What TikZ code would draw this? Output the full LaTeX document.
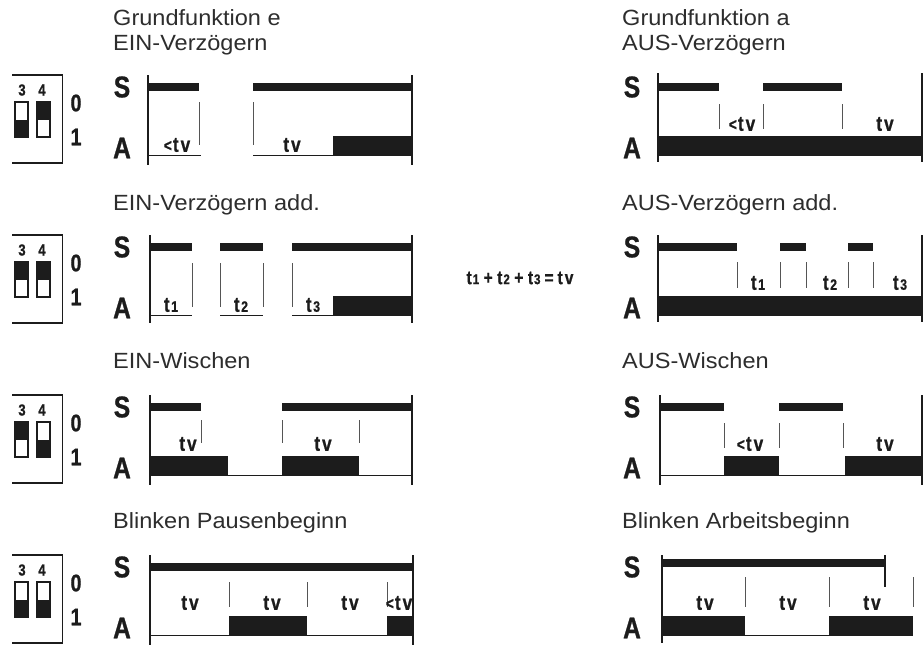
\documentclass[tikz,border=0pt]{standalone}
\usepackage{fontspec}
\setmainfont{Liberation Sans}
\newfontfamily\titlefont[FakeStretch=1.07]{Liberation Sans}
\newfontfamily\condfont[FakeStretch=0.82,BoldFeatures={FakeBold=0.8}]{Liberation Sans}
\definecolor{inkc}{RGB}{28,28,28}
\definecolor{txtc}{RGB}{45,45,45}
\tikzset{
  axisline/.style={draw=inkc,line width=1.1pt},
  tickline/.style={draw=inkc!75,line width=0.9pt},
  aline/.style={draw=inkc,line width=1.3pt},
  swline/.style={draw=inkc,line width=1.4pt},
  ttl/.style={inner sep=0,anchor=base west,text=txtc,font=\titlefont\fontsize{22}{22}\selectfont},
  sa/.style={inner sep=0,text=inkc,font=\condfont\bfseries\fontsize{30}{30}\selectfont},
  lbl/.style={inner sep=0,text=inkc,font=\condfont\bfseries\fontsize{21}{21}\selectfont},
  tlbl/.style={inner sep=0,text=inkc,font=\condfont\bfseries\fontsize{21}{21}\selectfont},
  snum/.style={inner sep=0,text=inkc,font=\condfont\bfseries\fontsize{16}{16}\selectfont},
  bnum/.style={inner sep=0,text=inkc,font=\condfont\bfseries\fontsize{24}{24}\selectfont},
}
\newcommand\sbar[3]{\fill[inkc] (#1,#3-3.8) rectangle (#2,#3+3.8);}
\newcommand\abar[2]{\fill[inkc] (#1,135.5) rectangle (#2,155.8);}
\newcommand\tickat[3]{\draw[tickline] (#1,#2) -- (#1,#3);}
\newcommand\tvtext{t\kern2pt v}
\newcommand\ltvtext{{\fontsize{17}{17}\selectfont\raisebox{0.5pt}{<}}\kern1pt t\kern2pt v}
\newcommand\sub[1]{{\fontsize{15}{15}\selectfont #1}}
% #1 y offset, #2 fill top of switch 3, #3 fill top of switch 4, #4 prefix
\newcommand\dipsw[4]{%
 \begin{scope}[shift={(0,#1)}]
  \draw[swline] (12,75) -- (62.5,75) -- (62.5,163) -- (12,163);
  \node[snum] (#4n3) at (22,90) {3};
  \node[snum] (#4n4) at (42,90) {4};
  \fill[inkc] (15,#2) rectangle (28,#2+17.5);
  \fill[inkc] (37,#3) rectangle (50,#3+17.5);
  \draw[swline] (15,102) rectangle (28,137);
  \draw[swline] (37,102) rectangle (50,137);
  \node[bnum] (#4z) at (76,103) {0};
  \node[bnum] (#4o) at (76,137) {1};
 \end{scope}}
\newcommand\salabels[3]{%
  \node[sa] (#3S) at (#1,#2+87) {S};
  \node[sa] (#3A) at (#1,#2+148) {A};}
\begin{document}
\begin{tikzpicture}[x=1pt,y=-1pt]
\useasboundingbox (0,0) rectangle (923,649);
\fill[white] (0,0) rectangle (923,649);

% ---------------- Panel 1 ----------------
\node[ttl] (t1l1) at (113,25) {Grundfunktion e};
\node[ttl] (t1l2) at (113,50) {EIN-Verzögern};
\node[ttl] (t1r1) at (622,25) {Grundfunktion a};
\node[ttl] (t1r2) at (622,50) {AUS-Verzögern};
\dipsw{0}{119.5}{102}{p1}
\salabels{122}{0}{p1l}
\salabels{632}{0}{p1r}
\begin{scope}
  \draw[axisline] (148,75) -- (148,165);
  \draw[axisline] (412,75) -- (412,165);
  \sbar{148}{199}{87}
  \sbar{253}{412}{87}
  \tickat{199}{102}{145}
  \tickat{253}{102}{145}
  \draw[aline] (148,155.5) -- (201,155.5);
  \draw[aline] (253,155.5) -- (333,155.5);
  \abar{333}{412}
  \node[lbl] (p1a) at (177,145) {\ltvtext};
  \node[lbl] (p1b) at (292,145) {\tvtext};
\end{scope}
\begin{scope}
  \draw[axisline] (658,73) -- (658,162);
  \draw[axisline] (922,73) -- (922,162);
  \sbar{658}{719}{87}
  \sbar{763}{842}{87}
  \tickat{719}{104}{129}
  \tickat{763}{104}{129}
  \tickat{842}{104}{129}
  \abar{658}{923}
  \node[lbl] (p1c) at (742,124) {\ltvtext};
  \node[lbl] (p1d) at (885,124) {\tvtext};
\end{scope}

% ---------------- Panel 2 ----------------
\node[ttl] (t2l) at (113,210) {EIN-Verzögern add.};
\node[ttl] (t2r) at (622,210) {AUS-Verzögern add.};
\dipsw{160}{102}{102}{p2}
\salabels{122}{160}{p2l}
\salabels{632}{160}{p2r}
\begin{scope}[shift={(0,160)}]
  \draw[axisline] (150,75) -- (150,163);
  \draw[axisline] (412,75) -- (412,163);
  \sbar{150}{192}{87}
  \sbar{220}{263}{87}
  \sbar{292}{412}{87}
  \tickat{192}{103}{147}
  \tickat{220}{103}{147}
  \tickat{263}{103}{147}
  \tickat{292}{103}{147}
  \draw[aline] (150,155.5) -- (192,155.5);
  \draw[aline] (220,155.5) -- (263,155.5);
  \draw[aline] (292,155.5) -- (333,155.5);
  \abar{333}{412}
  \node[tlbl] (p2a) at (171,145) {t\kern1.5pt\sub{1}};
  \node[tlbl] (p2b) at (241,145) {t\kern1.5pt\sub{2}};
  \node[tlbl] (p2c) at (313,145) {t\kern1.5pt\sub{3}};
  \node[inner sep=0,text=inkc,font=\condfont\bfseries\fontsize{19}{19}\selectfont] (form) at (520,118)
    {t\kern1pt{\fontsize{14}{14}\selectfont 1}\kern4.5pt+\kern4.5pt t\kern1pt{\fontsize{14}{14}\selectfont 2}\kern4.5pt+\kern4.5pt t\kern1pt{\fontsize{14}{14}\selectfont 3}\kern4pt=\kern4pt t\kern2pt v};
\end{scope}
\begin{scope}[shift={(0,160)}]
  \draw[axisline] (658,75) -- (658,162);
  \draw[axisline] (922,75) -- (922,162);
  \sbar{658}{737}{87}
  \sbar{780}{806}{87}
  \sbar{848}{873}{87}
  \tickat{737}{102}{128}
  \tickat{780}{102}{128}
  \tickat{806}{102}{128}
  \tickat{848}{102}{128}
  \tickat{873}{102}{128}
  \abar{658}{923}
  \node[tlbl] (p2d) at (758,123) {t\kern1.5pt\sub{1}};
  \node[tlbl] (p2e) at (830,123) {t\kern1.5pt\sub{2}};
  \node[tlbl] (p2f) at (900,123) {t\kern1.5pt\sub{3}};
\end{scope}

% ---------------- Panel 3 ----------------
\node[ttl] (t3l) at (113,368) {EIN-Wischen};
\node[ttl] (t3r) at (622,368) {AUS-Wischen};
\dipsw{320}{102}{119.5}{p3}
\salabels{122}{320}{p3l}
\salabels{632}{320}{p3r}
\begin{scope}[shift={(0,320)}]
  \draw[axisline] (150,75) -- (150,165);
  \draw[axisline] (412,75) -- (412,165);
  \sbar{150}{201}{87}
  \sbar{282}{412}{87}
  \tickat{201}{100}{123}
  \tickat{282}{100}{123}
  \tickat{359}{100}{123}
  \abar{150}{228}
  \draw[aline] (228,155.5) -- (282,155.5);
  \abar{282}{359}
  \draw[aline] (359,155.5) -- (412,155.5);
  \node[lbl] (p3a) at (188,124) {\tvtext};
  \node[lbl] (p3b) at (323,124) {\tvtext};
\end{scope}
\begin{scope}[shift={(0,320)}]
  \draw[axisline] (660,75) -- (660,165);
  \draw[axisline] (922,75) -- (922,165);
  \sbar{660}{724}{87}
  \sbar{779}{843}{87}
  \tickat{724}{103}{128}
  \tickat{779}{103}{128}
  \tickat{843}{103}{128}
  \draw[aline] (660,155.5) -- (724,155.5);
  \abar{724}{779}
  \draw[aline] (779,155.5) -- (845,155.5);
  \abar{845}{923}
  \node[lbl] (p3c) at (750,124) {\ltvtext};
  \node[lbl] (p3d) at (885,124) {\tvtext};
\end{scope}

% ---------------- Panel 4 ----------------
\node[ttl] (t4l) at (113,528) {Blinken Pausenbeginn};
\node[ttl] (t4r) at (622,528) {Blinken Arbeitsbeginn};
\dipsw{480}{119.5}{119.5}{p4}
\salabels{122}{480}{p4l}
\salabels{632}{480}{p4r}
\begin{scope}[shift={(0,480)}]
  \draw[axisline] (150,75) -- (150,165);
  \draw[axisline] (413,75) -- (413,165);
  \sbar{150}{413}{87}
  \tickat{229}{102}{127}
  \tickat{307}{102}{127}
  \tickat{387}{102}{127}
  \draw[aline] (150,155.5) -- (229,155.5);
  \abar{229}{307}
  \draw[aline] (307,155.5) -- (387,155.5);
  \abar{387}{413}
  \node[lbl] (p4a) at (190,123) {\tvtext};
  \node[lbl] (p4b) at (272,123) {\tvtext};
  \node[lbl] (p4c) at (350,123) {\tvtext};
  \node[lbl] (p4d) at (399,123) {\ltvtext};
\end{scope}
\begin{scope}[shift={(0,480)}]
  \draw[axisline] (662,75) -- (662,163);
  \draw[axisline] (885,75) -- (885,107);
  \sbar{662}{885}{83}
  \tickat{745}{97}{127}
  \tickat{829}{97}{127}
  \tickat{913}{97}{127}
  \abar{662}{745}
  \draw[aline] (745,155.5) -- (829,155.5);
  \abar{829}{913}
  \node[lbl] (p4e) at (705,123) {\tvtext};
  \node[lbl] (p4f) at (788,123) {\tvtext};
  \node[lbl] (p4g) at (872,123) {\tvtext};
\end{scope}
\end{tikzpicture}
\end{document}
